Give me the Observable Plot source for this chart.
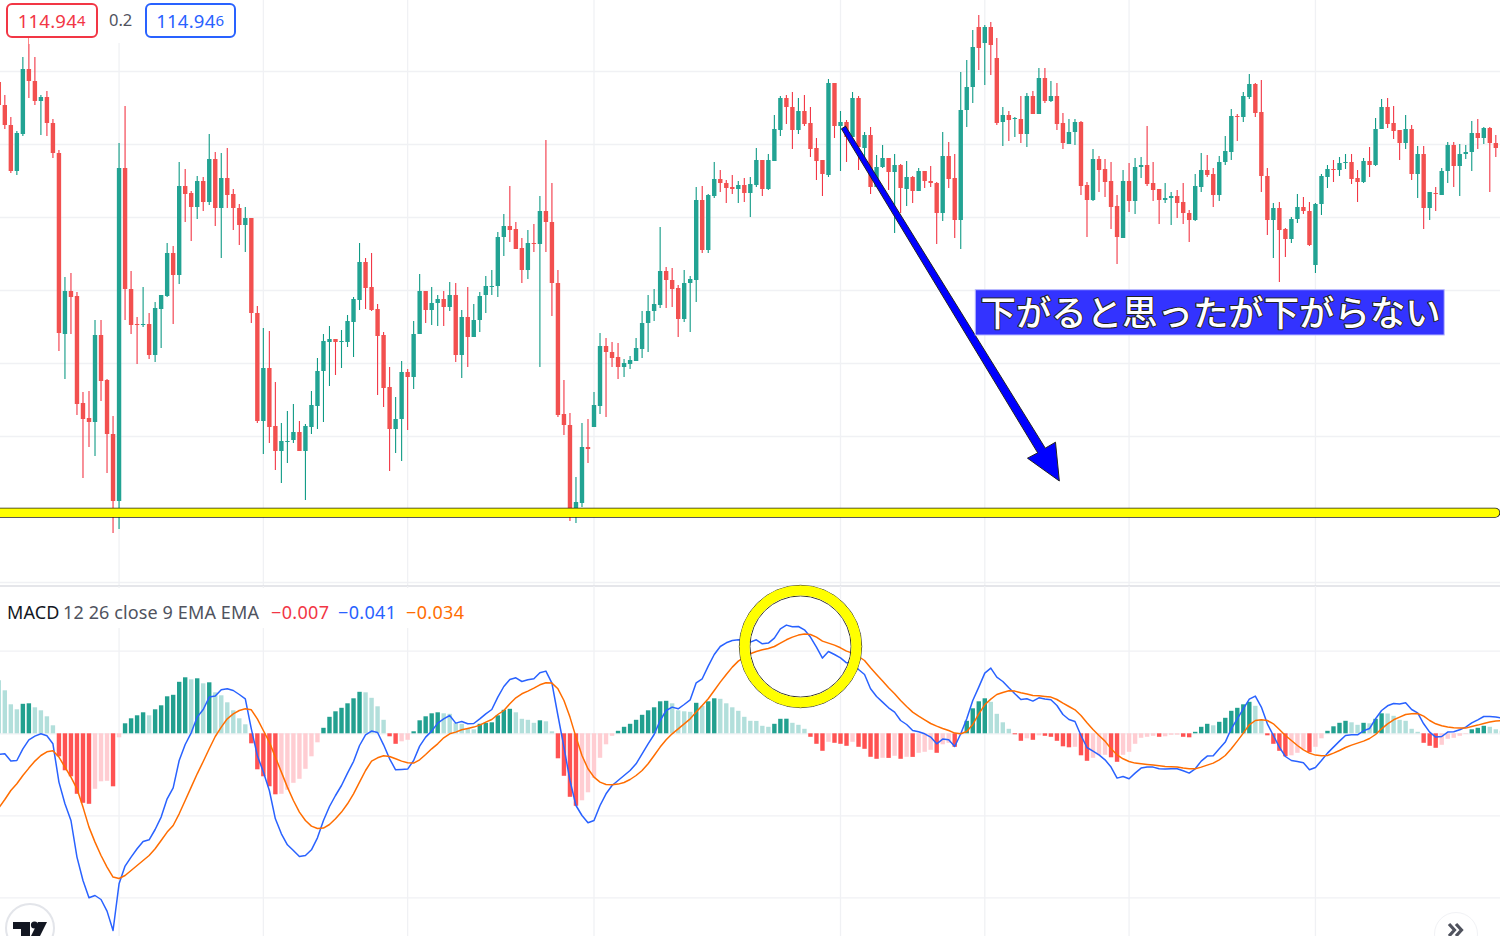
<!DOCTYPE html>
<html lang="ja">
<head>
<meta charset="utf-8">
<script src="https://cdn.jsdelivr.net/npm/d3@7"></script>
<script src="https://cdn.jsdelivr.net/npm/@observablehq/plot@0.6"></script>
<style>
html,body{margin:0;padding:0;background:#fff;overflow:hidden;width:1500px;height:936px}
#stage{position:relative;width:1500px;height:936px;overflow:hidden;font-family:"Noto Sans",sans-serif}
#stage svg{display:block;overflow:visible}
.abs{position:absolute;white-space:nowrap;line-height:1}
.mask{position:absolute;background:#fff}
.pill{position:absolute;box-sizing:border-box;height:35px;width:91.5px;border:2px solid;border-radius:6px;background:#fff;text-align:center;font-size:18.5px;line-height:32px;letter-spacing:.25px}
.pill small{font-size:15px;position:relative;top:-2px}
.round{position:absolute;border-radius:50%;background:#fff;box-sizing:border-box}
.leg{font-size:18px;letter-spacing:.12px;top:603px}
.val{letter-spacing:.35px}
</style>
</head>
<body>
<div id="stage"></div>
<script>
// Candles, one entry per bar. Unit: 73 units = one price grid step (0.05 JPY).
const opens=[518,495,475,429,466,531,519,499,503,477,447,266,309,304,197,182,178,265,220,166,99,432,311,276,275,276,245,291,304,347,325,414,407,393,419,398,441,392,422,406,392,375,382,287,179,232,174,149,158,160,168,149,173,194,229,258,261,258,258,278,300,338,313,291,265,213,171,181,228,223,266,309,290,297,301,293,305,245,283,263,280,305,313,314,363,374,371,352,330,357,356,389,378,317,186,175,90,97,153,173,194,254,248,243,233,236,239,251,277,289,295,329,320,312,281,317,320,400,350,404,421,417,413,411,415,407,415,440,411,439,470,502,493,470,489,477,452,440,425,517,474,478,463,502,452,465,413,433,442,428,435,411,423,409,429,419,417,387,444,422,380,490,513,573,557,573,542,478,485,481,481,466,504,486,522,499,504,477,456,468,478,415,400,441,431,419,394,362,419,399,433,435,417,411,400,402,404,398,387,380,413,430,426,405,438,448,484,483,503,516,488,424,380,392,371,361,381,393,389,335,396,423,431,430,437,438,422,418,439,435,471,493,477,470,457,471,426,446,392,407,405,429,455,434,446,448,467,462,472,457];
const highs=[518,505,483,469,543,556,543,505,509,481,450,323,327,308,208,209,280,280,221,184,457,494,329,283,313,287,298,305,357,354,438,431,409,424,423,466,448,447,452,411,396,393,382,294,272,269,218,177,189,196,179,176,209,242,266,274,261,270,285,303,357,342,347,296,268,233,203,239,231,279,326,309,313,305,309,318,317,290,313,296,308,324,330,368,386,414,378,362,370,376,404,460,417,330,220,187,123,177,181,208,267,262,258,257,241,244,262,289,305,311,373,333,332,315,330,324,413,414,406,438,430,420,425,419,422,423,452,440,446,485,504,505,508,502,505,493,462,440,521,517,489,480,508,504,468,473,445,455,442,446,436,439,424,432,429,434,418,468,458,446,528,540,570,585,575,578,562,493,489,483,504,507,509,532,532,519,517,487,481,481,479,418,451,444,441,438,405,430,437,442,443,474,438,411,417,408,410,417,390,426,447,445,432,444,464,491,486,508,526,517,520,432,397,398,372,383,406,403,398,397,426,435,440,443,446,446,430,442,453,482,501,502,494,470,485,475,454,454,408,413,432,458,458,456,455,479,481,473,473,465];
const lows=[495,471,427,425,464,502,495,465,464,442,249,221,266,185,122,153,144,199,127,67,71,280,266,236,273,241,238,252,303,276,316,378,359,381,389,395,374,342,392,370,355,348,277,177,146,157,130,117,137,157,149,100,166,171,178,214,225,232,253,243,290,291,289,205,193,129,147,139,170,211,266,277,275,274,274,289,238,222,233,263,268,287,305,303,344,358,351,317,321,348,233,348,284,183,165,79,77,93,137,173,186,183,233,221,223,231,239,242,248,279,292,292,293,263,278,268,298,347,347,402,408,397,406,397,398,383,413,404,410,439,464,476,451,466,474,443,420,404,423,462,429,438,463,430,437,406,413,432,410,367,387,394,397,409,412,413,356,379,412,362,351,473,497,530,515,525,475,454,459,463,457,453,486,486,497,498,470,451,456,455,405,363,399,408,403,371,336,362,388,386,422,414,399,376,397,375,382,376,358,379,408,423,393,399,435,440,459,478,501,483,408,365,342,318,343,357,377,386,354,327,385,412,418,424,431,416,398,417,423,434,471,472,461,440,451,420,402,371,380,389,405,417,413,404,441,429,451,456,408,443];
const closes=[495,475,429,467,531,519,499,503,477,447,267,309,303,196,181,178,265,219,166,99,432,311,275,275,276,245,292,305,347,325,414,406,393,419,398,441,392,422,405,392,375,382,287,179,232,173,149,159,159,168,149,174,195,229,259,261,258,259,279,301,338,312,290,264,212,171,181,228,223,266,309,290,297,301,293,305,245,283,263,280,304,314,314,363,374,370,351,330,357,356,389,378,317,185,175,92,98,153,151,195,254,248,242,233,237,240,252,277,289,296,329,320,311,281,317,321,400,350,405,421,417,412,411,415,407,416,440,411,440,471,502,493,470,489,476,451,439,426,517,474,478,463,502,453,465,413,433,442,428,435,412,423,409,429,419,417,387,444,421,380,490,513,553,552,573,555,477,485,480,482,466,504,486,522,499,504,476,457,468,478,414,400,441,430,418,393,363,419,399,433,435,416,410,400,402,404,397,387,380,414,430,425,405,438,449,484,483,504,516,487,424,380,392,370,361,381,393,389,355,396,424,431,430,437,438,421,418,439,435,471,493,476,469,457,471,426,446,392,408,406,429,455,434,446,448,467,462,472,457,452];

// MACD pane, one entry per bar. Unit: 82.3 units = one indicator grid step.
const histValues=[53,43,29,24,29.5,30,26,23,17,8,-23,-37,-43,-60.5,-69.5,-70.5,-55.5,-48,-47.5,-53,-4,10,15,18,21,18,24,28,37,38.5,51.5,56,54,55,50,51,41,38,31,23,15,9,-10,-36,-43,-53,-61,-60.5,-56.5,-49.5,-45.5,-35.5,-23,-9,5.5,16.5,22,25.5,30,35,41.5,41,35.5,27,13.5,-3,-10.5,-8,-6.5,2,13,17,20,21,20,19.5,10.5,9.5,4.5,4,9.5,10.5,11,18,23.5,24.5,21,14.5,13.5,10.5,13,12,2,-25,-42.5,-63.5,-72.5,-67,-59,-44.5,-24.5,-11,-2.5,2.5,6.5,9.5,13.5,18.5,23,26,32,32.5,30,23,22,21.5,30.5,27.5,32,35,34.5,30,26,22.5,16.5,12.5,12.4,7.5,6.5,9.5,14.5,14.6,10.5,8.5,4.5,-3.5,-10.5,-17.5,-8.5,-9.5,-10.5,-12.5,-8.5,-13.5,-15.5,-23.5,-25.5,-24.5,-24.6,-22.5,-25.5,-23.5,-23.6,-19.5,-18.5,-16.5,-19.5,-11,-9.5,-13.5,-1,12.5,25,32,35,31.5,19.5,11,4.5,-1,-7.5,-5,-6.5,-2,-2.5,-3.5,-7.5,-13,-14,-13.5,-22,-27.5,-24.5,-22,-21.5,-24,-28.5,-21.5,-18.5,-10.5,-4.5,-3.5,-2.5,-3.5,-3,-1.5,-1.4,-3.5,-4,1.5,6.5,9.5,8,11.5,15.5,22.5,25.5,29,31.5,27.5,13.5,-2,-10.5,-17.5,-23,-22,-19.5,-16,-19,-13.5,-5,2.5,7,10.5,12.5,11,8.5,10.5,10,14.5,20,19.8,17.5,13.5,12.5,4.5,1.5,-9.5,-12.5,-14.5,-11.5,-5.5,-4.5,-2.5,-0.5,4,5.5,7.5,6.5,4,2.5];
const macdLine=[-20.7,-20,-27.3,-26.7,-15,-6,-2.3,0,-2,-10,-48.3,-70,-86.7,-123.3,-146.7,-164,-161.7,-165.7,-177.3,-196.7,-150,-132.3,-123.3,-115,-107.7,-106,-95.7,-83.3,-65,-54,-26.7,-10.7,1,16.7,24.3,36.7,37.7,44,45,43.3,39.3,35,5,-21.7,-38.3,-56.7,-85,-100,-111,-116.7,-122.7,-121.7,-116,-104,-86.7,-72.7,-61.7,-51.7,-39.3,-27.7,-11.7,-1,2.7,1.3,-11,-25,-36,-35.7,-35.3,-26.7,-12.3,-3.3,2.7,10.7,15,18.3,10.7,12.3,10,10.3,15,20,24.3,36.7,47.3,54.3,56,52.3,54,55,61,62.7,50.7,18.3,-13.3,-46.7,-71.7,-81.7,-89,-86.7,-71.7,-60,-51.7,-46.7,-41.7,-36.7,-30,-20,-10,-0.7,13.3,23.3,26.7,25,29.3,34,51,55,67.7,79.3,87.3,91,93.3,94,93.3,91.7,94,90,90.7,95.7,105,108.7,107,107.3,104,96.7,86.7,75.7,82.3,79.3,76,71,71,64.3,59.3,45,37.3,31.7,26,21.7,13.3,9.3,3.3,2,0,-3.3,-10,-5.3,-6,-12.7,0,15,33.3,46.7,60.7,65.7,56.7,52.3,46,40,34.3,35,32.7,36,34.7,34,28.3,19.3,14.3,12.3,-1.7,-13.7,-17.3,-21,-26,-33.3,-44.3,-42.7,-45,-39.3,-34.3,-33.3,-33.3,-35,-35.3,-35,-35,-37,-39.3,-35,-27.3,-22.3,-22,-15,-8.3,5,15,25,34.7,37.7,26.7,10,-1.7,-13.3,-22.7,-26.7,-27.7,-29,-36,-33.7,-26.7,-19.3,-13.3,-7.3,-1.7,-1,-1,3,5.3,15,23.3,28,30.3,29.7,31,24.3,21,10,1.7,-3.3,-2.7,1.7,2,4,6.7,11,14,17.3,17.3,16.7,15.7];
const signalLine=[-74,-65.7,-56.7,-50,-41.7,-34.3,-27.3,-21.7,-18,-17,-23.3,-33.3,-43.3,-55,-73.3,-93.3,-108.3,-121.7,-133.3,-143.3,-144.7,-141.7,-136.7,-131.7,-126.7,-121.7,-115,-106.7,-98.3,-91.7,-80,-66.7,-53.3,-40,-27.7,-15,-2.7,6.7,15,20,23.3,25,24,15,3.3,-8.3,-23.3,-38.3,-53.3,-66.7,-78.3,-86.7,-92.3,-94.7,-94.3,-90.7,-85,-78.3,-70,-60,-48.3,-36.7,-27.3,-24,-22,-22.7,-25,-27.3,-29,-29.3,-26,-20.7,-15,-10,-4,0,1.7,4,5.3,6.7,8.7,11.7,14.3,19.3,23.3,30,36,40,42.7,45.7,49,51,50.7,45,33.3,16.7,-3.3,-21.7,-35,-43.3,-48.3,-50.7,-51,-50.3,-48.7,-45.7,-41.7,-36.7,-30,-21.7,-13.3,-6,0,5,10,15,21.7,28.3,35,43.3,51.7,59.3,66.7,72.7,76.7,80,82.3,84,85.3,87.3,90.7,94,96.7,98.7,99.7,99.3,96.7,92.7,90.7,88.7,86,82.7,80.7,77.3,73.3,66,59.3,52.7,46,40,33.3,27.3,21.7,17.7,14,10.3,7.7,5.3,3.3,0.7,0,2.3,9.3,20,29,34.7,39.3,41.3,43,42.7,41,39.7,38.3,38,37.3,36.7,34.3,30.7,27.3,24,18.3,11,4.3,-1.7,-7.3,-15,-21,-25,-27.7,-29.3,-30,-30.7,-31.3,-32,-32.7,-33,-33.3,-34.3,-35,-35,-33.3,-31.3,-29.3,-26,-21.7,-15,-7.3,0.7,9,13.3,14,13.3,10,4.3,-1.7,-6.7,-11.7,-16,-19.3,-21.3,-22,-21.7,-19.3,-16.7,-13.7,-11.3,-9.3,-7.3,-4.7,-0.7,5,10,14,16.7,19.3,20,20.3,17.7,13.3,10,8,6.7,6,5.7,5.7,7.3,8.7,10.3,11.7,12.7,13.3];

// Grid positions (bar number / pane value)
const timeTicks=[20,44,68,99,140,164,188,219];
const priceTicks=[18,91,164,237,310,383,456,529];
const macdTicks=[82.6,0,-82,-164];

// Annotations
const supportBars=[0,248.9];
const supportLevel=87.7;
const ringBar=133.35, ringValue=87.3;
const arrowBars=[140.85,174.06,175.76,176.4,171.1,172.8,140.15,140.85];
const arrowPrices=[474.3,152.35,158.3,119.5,142.3,147.65,471.7,474.3];
const noteBox={x1:162.5,x2:240.5,y1:265,y2:310.3};
const noteAnchor={x:163.3,y:286.3};
const noteText="下がると思ったが下がらない";

const UP_BODY="#22a393",UP_WICK="#0f9a85",DOWN_BODY="#f2504f",DOWN_WICK="#f23645";
const HIST_UP="#22a08f",HIST_UP_SOFT="#b2dfdb",HIST_DOWN="#ff5252",HIST_DOWN_SOFT="#ffcdd2";
const GRID="#f0f1f4";
const xScale={domain:[0.28,249.78],range:[0,1500],axis:null};

const candles=opens.map((o,j)=>({j,o,h:highs[j],l:lows[j],c:closes[j],up:closes[j]>=o}));
const hist=histValues.map((v,j)=>{
  const prev=j?histValues[j-1]:Infinity;
  const color=v>=0?(v>prev?HIST_UP:HIST_UP_SOFT):(v<prev?HIST_DOWN:HIST_DOWN_SOFT);
  return {j,v,color};
});
const macd=macdLine.map((v,j)=>({j,v}));
const signal=signalLine.map((v,j)=>({j,v}));
const arrow=arrowBars.map((x,k)=>({x,y:arrowPrices[k]}));
const support=supportBars.map(x=>({x,y:supportLevel}));

const pricePlot=Plot.plot({
  width:1500,height:586,margin:0,
  x:xScale,
  y:{domain:[14,600],range:[586,0],axis:null},
  color:{type:"identity"},
  style:{background:"transparent"},
  marks:[
    Plot.ruleX(timeTicks,{stroke:GRID,strokeWidth:1.3}),
    Plot.ruleY(priceTicks,{stroke:GRID,strokeWidth:1.3}),
    Plot.ruleY([14.5],{stroke:"#dcdee3",strokeWidth:1.5}),
    Plot.ruleX(candles,{x:"j",y1:"l",y2:"h",stroke:d=>d.up?UP_WICK:DOWN_WICK,strokeWidth:1.1}),
    Plot.ruleX(candles,{x:"j",y1:"o",y2:"c",stroke:d=>d.up?UP_BODY:DOWN_BODY,strokeWidth:4.4}),
    Plot.line(support,{x:"x",y:"y",stroke:"#222",strokeWidth:10,strokeLinecap:"round"}),
    Plot.line(support,{x:"x",y:"y",stroke:"#ffff00",strokeWidth:8.4,strokeLinecap:"round"}),
    Plot.line(arrow,{x:"x",y:"y",fill:"#0000ff",stroke:"#222",strokeWidth:1,strokeLinejoin:"round"}),
    Plot.rect([noteBox],{x1:"x1",x2:"x2",y1:"y1",y2:"y2",fill:"#3333ff",stroke:"#b9b9ff",strokeWidth:1}),
    Plot.text([noteAnchor],{x:"x",y:"y",text:()=>noteText,textAnchor:"start",fill:"#fff",stroke:"#222",strokeWidth:2,paintOrder:"stroke",fontSize:35.4,fontWeight:500,fontFamily:'"Noto Sans CJK JP"'})
  ]
});

const macdPlot=Plot.plot({
  width:1500,height:350,margin:0,
  x:xScale,
  y:{domain:[-202.7,147.3],range:[350,0],axis:null},
  color:{type:"identity"},
  style:{background:"transparent"},
  marks:[
    Plot.ruleX(timeTicks,{stroke:GRID,strokeWidth:1.3}),
    Plot.ruleY(macdTicks,{stroke:GRID,strokeWidth:1.3}),
    Plot.ruleX(hist,{x:"j",y1:()=>0,y2:"v",stroke:"color",strokeWidth:4.4}),
    Plot.line(macd,{x:"j",y:"v",stroke:"#2962ff",strokeWidth:1.5}),
    Plot.line(signal,{x:"j",y:"v",stroke:"#ff6d00",strokeWidth:1.5}),
    Plot.dot([{x:ringBar,y:ringValue}],{x:"x",y:"y",r:61.2,fill:"none",stroke:"#333",strokeWidth:1}),
    Plot.dot([{x:ringBar,y:ringValue}],{x:"x",y:"y",r:50.6,fill:"none",stroke:"#333",strokeWidth:1}),
    Plot.dot([{x:ringBar,y:ringValue}],{x:"x",y:"y",r:55.9,fill:"none",stroke:"#ffff00",strokeWidth:10})
  ]
});

const stage=document.getElementById("stage");
stage.append(pricePlot,macdPlot);
stage.insertAdjacentHTML("beforeend",`
<div class="mask" style="left:0;top:0;width:240px;height:43px"></div>
<div class="mask" style="left:0;top:588px;width:470px;height:40px"></div>
<div class="abs" style="left:28px;top:38px;width:1.2px;height:6px;background:#f88"></div>
<div class="pill" style="left:6px;top:3px;color:#f23645;border-color:#f23645">114.94<small>4</small></div>
<div class="abs" style="left:109px;top:12px;font-size:16.5px;color:#50535e">0.2</div>
<div class="pill" style="left:144.5px;top:3px;color:#2962ff;border-color:#2962ff">114.94<small>6</small></div>
<div class="abs leg" style="left:7px;color:#131722">MACD</div>
<div class="abs leg" style="left:63px;color:#50535e">12 26 close 9 EMA EMA</div>
<div class="abs leg val" style="left:271px;color:#f23645">−0.007</div>
<div class="abs leg val" style="left:338px;color:#2962ff">−0.041</div>
<div class="abs leg val" style="left:406px;color:#ff6d00">−0.034</div>
<div class="round" style="left:4.5px;top:903px;width:50px;height:50px;border:2px solid #e3e5ea"></div>
<svg class="abs" style="left:0;top:900px" width="60" height="36" viewBox="0 0 60 36">
<path d="M13 22H30V36H21V29H13Z" fill="#131722"/><circle cx="34.5" cy="25" r="3.6" fill="#131722"/><path d="M38 22H47L40 36H31Z" fill="#131722"/></svg>
<div class="round" style="left:1434px;top:912px;width:44px;height:44px;border:1px solid #f1f2f5"></div>
<svg class="abs" style="left:1440px;top:915px" width="30" height="21" viewBox="0 0 30 21" fill="none" stroke="#50535e" stroke-width="3.2">
<path d="M9 9L14.5 15L9 21"/><path d="M16 9L21.5 15L16 21"/></svg>
`);
</script>
</body>
</html>
